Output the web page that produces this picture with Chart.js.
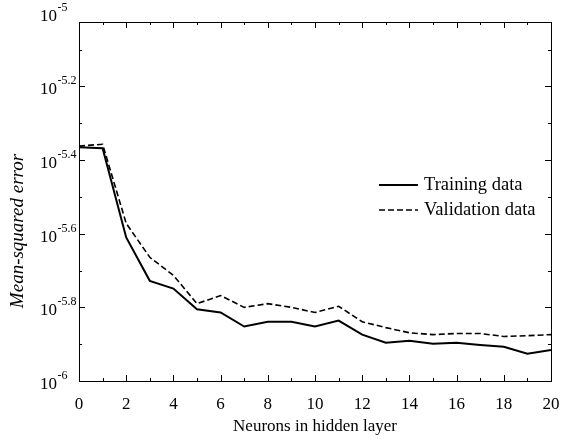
<!DOCTYPE html>
<html><head><meta charset="utf-8">
<script src="https://cdn.jsdelivr.net/npm/chart.js@4/dist/chart.umd.min.js"></script>
<style>html,body{margin:0;padding:0;background:#fff}#wrap{width:572px;height:440px}</style>
</head><body><div id="wrap"><canvas id="c" width="572" height="440"></canvas></div>
<script>
const neurons = [0,1,2,3,4,5,6,7,8,9,10,11,12,13,14,15,16,17,18,19,20];
// log10(MSE)
const trainingExp = [-5.365,-5.368,-5.61,-5.728,-5.749,-5.805,-5.814,-5.852,-5.839,-5.839,-5.852,-5.836,-5.874,-5.896,-5.891,-5.899,-5.896,-5.902,-5.907,-5.926,-5.916];
const validationExp = [-5.362,-5.357,-5.572,-5.664,-5.713,-5.79,-5.768,-5.8,-5.79,-5.8,-5.814,-5.797,-5.839,-5.855,-5.869,-5.874,-5.871,-5.871,-5.879,-5.877,-5.874];
const xTickValues = [0,2,4,6,8,10,12,14,16,18,20];
const xTickLabels = ['0','2','4','6','8','10','12','14','16','18','20'];
const yTickExps = [-6,-5.8,-5.6,-5.4,-5.2,-5];
const yTickLabels = ['-6','-5.8','-5.6','-5.4','-5.2','-5'];
const seriesNames = ['Training data','Validation data'];
const xTitle = 'Neurons in hidden layer';
const yTitle = 'Mean-squared error';
const axisMinExp = -6, axisMaxExp = -5.025;

const FONT = '"Liberation Serif","Times New Roman",serif';

const decor = {
  id: 'decor',
  afterDraw(chart) {
    const ctx = chart.ctx, a = chart.chartArea;
    const xs = chart.scales.x, ys = chart.scales.y;
    ctx.save();
    ctx.strokeStyle = '#000'; ctx.fillStyle = '#000'; ctx.lineWidth = 1;
    // frame
    ctx.strokeRect(Math.round(a.left)+0.5, Math.round(a.top)+0.5, Math.round(a.right-a.left), Math.round(a.bottom-a.top));
    // x ticks (inward, mirrored on top)
    ctx.beginPath();
    for (let i = 0; i <= 20; i++) {
      const x = Math.round(xs.getPixelForValue(i)) + 0.5;
      const len = (i % 2 === 0) ? 6 : 3;
      ctx.moveTo(x, a.bottom); ctx.lineTo(x, a.bottom - len);
      ctx.moveTo(x, a.top); ctx.lineTo(x, a.top + len);
    }
    // y ticks
    for (let k = 0; k <= 10; k++) {
      const e = -6 + k * 0.1;
      const y = Math.round(ys.getPixelForValue(Math.pow(10, e))) + 0.5;
      if (y < a.top + 1) continue;
      const len = (k % 2 === 0) ? 6 : 3;
      ctx.moveTo(a.left, y); ctx.lineTo(a.left + len, y);
      ctx.moveTo(a.right, y); ctx.lineTo(a.right - len, y);
    }
    ctx.stroke();
    // x tick labels
    ctx.font = '17px ' + FONT; ctx.textAlign = 'center'; ctx.textBaseline = 'alphabetic';
    xTickValues.forEach((v, i) => {
      ctx.fillText(xTickLabels[i], xs.getPixelForValue(v), 409);
    });
    // y tick labels 10^e
    yTickExps.forEach((e, i) => {
      const y = ys.getPixelForValue(Math.pow(10, e));
      ctx.font = '17px ' + FONT; ctx.textAlign = 'left';
      ctx.fillText('10', 40, y + 8);
      const w = ctx.measureText('10').width;
      ctx.font = '12px ' + FONT;
      ctx.fillText(yTickLabels[i], 40 + w + 0.5, y - 2);
    });
    // axis titles
    ctx.font = '17px ' + FONT; ctx.textAlign = 'center'; ctx.textBaseline = 'middle';
    ctx.fillText(xTitle, (a.left + a.right) / 2, 427);
    ctx.save();
    ctx.translate(18, 231); ctx.rotate(-Math.PI / 2);
    ctx.font = 'italic 19px ' + FONT;
    ctx.fillText(yTitle, 0, 0);
    ctx.restore();
    // legend
    const ds = chart.data.datasets;
    const legY = [185, 210];
    ds.forEach((d, i) => {
      ctx.beginPath();
      ctx.lineWidth = d.borderWidth;
      ctx.setLineDash(d.borderDash || []);
      ctx.moveTo(379, legY[i]); ctx.lineTo(418, legY[i]);
      ctx.stroke();
      ctx.setLineDash([]);
      ctx.font = '18.5px ' + FONT; ctx.textAlign = 'left'; ctx.textBaseline = 'middle';
      ctx.fillText(d.label, 424, legY[i]);
    });
    ctx.restore();
  }
};

new Chart(document.getElementById('c'), {
  type: 'line',
  data: {
    datasets: [
      { label: seriesNames[0], data: neurons.map((n, i) => ({ x: n, y: Math.pow(10, trainingExp[i]) })),
        borderColor: '#000', borderWidth: 2, pointRadius: 0, fill: false, tension: 0 },
      { label: seriesNames[1], data: neurons.map((n, i) => ({ x: n, y: Math.pow(10, validationExp[i]) })),
        borderColor: '#000', borderWidth: 1.6, borderDash: [6, 3], pointRadius: 0, fill: false, tension: 0 }
    ]
  },
  options: {
    responsive: false, animation: false, devicePixelRatio: 1,
    layout: { padding: { left: 79, right: 21, top: 22, bottom: 59 } },
    plugins: { legend: { display: false }, tooltip: { enabled: false } },
    scales: {
      x: { type: 'linear', min: 0, max: 20, display: false },
      y: { type: 'logarithmic', min: Math.pow(10, axisMinExp), max: Math.pow(10, axisMaxExp), display: false }
    }
  },
  plugins: [decor]
});
</script></body></html>
